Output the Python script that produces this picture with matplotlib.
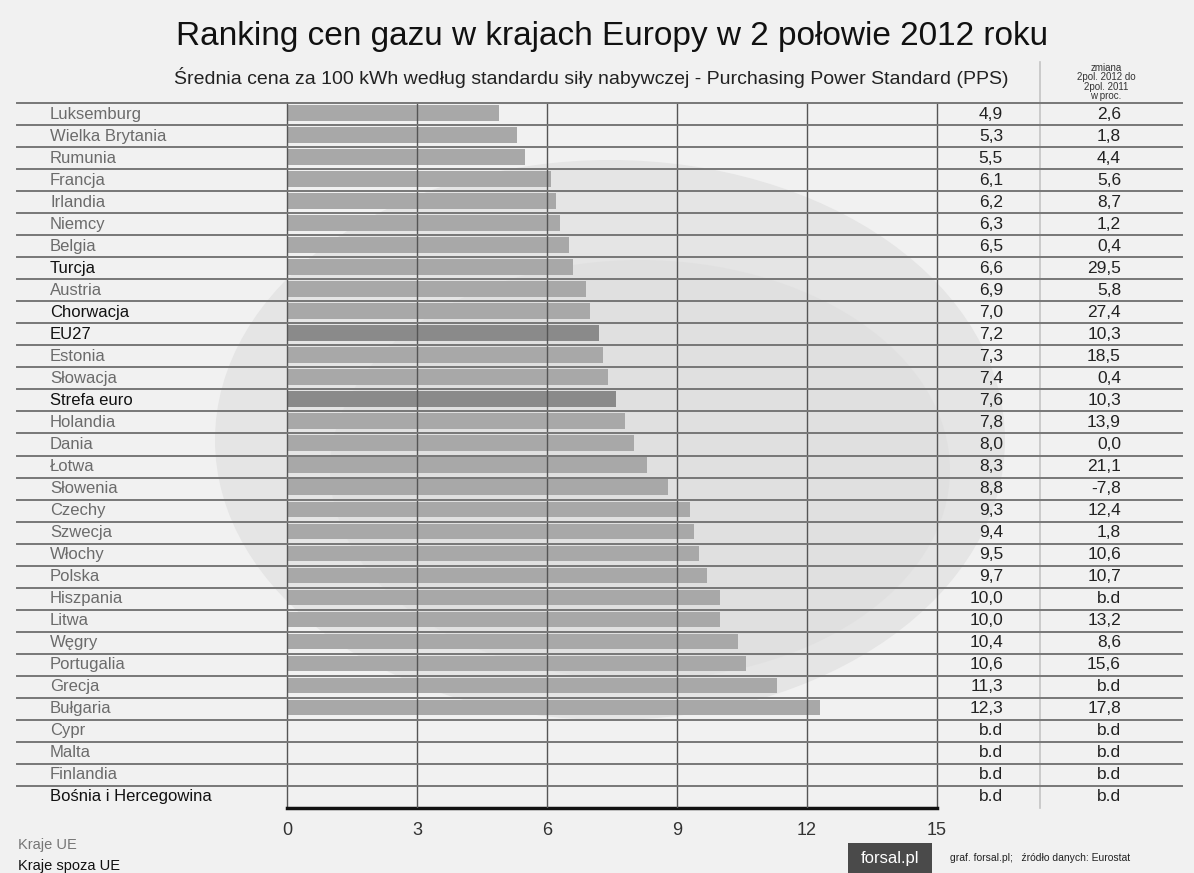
import matplotlib
matplotlib.use("Agg")
import matplotlib.pyplot as plt
from matplotlib.patches import Ellipse, Rectangle
import matplotlib.transforms as mtransforms

plt.rcParams['font.family'] = ['Liberation Sans', 'DejaVu Sans']

countries = ["Luksemburg", "Wielka Brytania", "Rumunia", "Francja", "Irlandia", "Niemcy",
             "Belgia", "Turcja", "Austria", "Chorwacja", "EU27", "Estonia", "Słowacja",
             "Strefa euro", "Holandia", "Dania", "Łotwa", "Słowenia", "Czechy", "Szwecja",
             "Włochy", "Polska", "Hiszpania", "Litwa", "Węgry", "Portugalia", "Grecja",
             "Bułgaria", "Cypr", "Malta", "Finlandia", "Bośnia i Hercegowina"]
prices = [4.9, 5.3, 5.5, 6.1, 6.2, 6.3, 6.5, 6.6, 6.9, 7.0, 7.2, 7.3, 7.4, 7.6, 7.8, 8.0,
          8.3, 8.8, 9.3, 9.4, 9.5, 9.7, 10.0, 10.0, 10.4, 10.6, 11.3, 12.3,
          None, None, None, None]
changes = [2.6, 1.8, 4.4, 5.6, 8.7, 1.2, 0.4, 29.5, 5.8, 27.4, 10.3, 18.5, 0.4, 10.3,
           13.9, 0.0, 21.1, -7.8, 12.4, 1.8, 10.6, 10.7, None, 13.2, 8.6, 15.6, None,
           17.8, None, None, None, None]
non_eu = ["Turcja", "Chorwacja", "Bośnia i Hercegowina"]
aggregates = ["EU27", "Strefa euro"]
xticks = [0, 3, 6, 9, 12, 15]

W, H = 1194, 873
fig = plt.figure(figsize=(W / 100, H / 100), dpi=100)
fig.patch.set_facecolor("#f1f1f1")

# faint background globe
bg = fig.add_axes([0, 0, 1, 1])
bg.set_xlim(0, W); bg.set_ylim(H, 0); bg.axis("off")
bg.add_patch(Ellipse((610, 440), 790, 560, facecolor="#e5e5e5", edgecolor="none"))
bg.add_patch(Ellipse((640, 470), 620, 420, facecolor="#dcdcdc", edgecolor="none", alpha=0.5))

x0, x1 = 287, 937
ytop, ybot = 103.3, 807.7
ax = fig.add_axes([x0 / W, 1 - ybot / H, (x1 - x0) / W, (ybot - ytop) / H])
ax.set_facecolor("none")
n = len(countries)
ax.set_xlim(0, 15)
ax.set_ylim(n - 0.5, -0.5)

def fmt(v):
    return "b.d" if v is None else f"{v:.1f}".replace(".", ",")

for i, (c, p) in enumerate(zip(countries, prices)):
    if p is not None:
        col = "#8a8a8a" if c in aggregates else "#a8a8a8"
        ax.barh(i - 0.05, p, height=0.72, color=col, edgecolor="none", zorder=2)

for xv in xticks[1:-1]:
    ax.axvline(xv, color="#555555", lw=1.0, zorder=3)

# row separator lines across full width
lx0 = (17 - x0) / (x1 - x0)
lx1 = (1182 - x0) / (x1 - x0)
for i in range(n):
    ax.axhline(i - 0.5, xmin=lx0, xmax=lx1, color="#777777", lw=1.4, clip_on=False, zorder=4)

ax.spines["top"].set_visible(False)
ax.spines["left"].set_color("#555555"); ax.spines["left"].set_linewidth(1.0)
ax.spines["right"].set_color("#555555"); ax.spines["right"].set_linewidth(1.0)
ax.spines["bottom"].set_color("#111111"); ax.spines["bottom"].set_linewidth(2.5)

ax.set_xticks(xticks)
ax.set_xticklabels([str(t) for t in xticks], fontsize=13, color="#333333")
ax.tick_params(axis="x", length=0, pad=10)
ax.set_yticks([])

trans_lab = mtransforms.blended_transform_factory(fig.transFigure, ax.transData)
for i, (c, p, ch) in enumerate(zip(countries, prices, changes)):
    tc = "#111111" if (c in non_eu or c in aggregates) else "#6b6b6b"
    ax.text(50 / W, i, c, transform=trans_lab, ha="left", va="center", fontsize=12, color=tc)
    ax.text(1003 / W, i, fmt(p), transform=trans_lab, ha="right", va="center", fontsize=12.5, color="#222222")
    ax.text(1121 / W, i, fmt(ch), transform=trans_lab, ha="right", va="center", fontsize=12.5, color="#222222")

# column separator
bg.plot([1040, 1040], [62, 808], color="#c4c4c4", lw=1.2)

fig.text(612 / W, 1 - 36 / H, "Ranking cen gazu w krajach Europy w 2 połowie 2012 roku",
         ha="center", va="center", fontsize=24, color="#111111")
fig.text(591 / W, 1 - 77 / H,
         "Średnia cena za 100 kWh według standardu siły nabywczej - Purchasing Power Standard (PPS)",
         ha="center", va="center", fontsize=14, color="#222222")
fig.text(1106 / W, 1 - 82 / H, "zmiana\n2pol. 2012 do\n2pol. 2011\nw proc.",
         ha="center", va="center", fontsize=7, color="#333333", linespacing=0.95)

fig.text(18 / W, 1 - 845 / H, "Kraje UE", ha="left", va="center", fontsize=10.5, color="#777777")
fig.text(18 / W, 1 - 866 / H, "Kraje spoza UE", ha="left", va="center", fontsize=10.5, color="#111111")

bg.add_patch(Rectangle((848, 843), 84, 30, facecolor="#4a4a4a", edgecolor="none"))
bg.text(890, 858, "forsal.pl", ha="center", va="center", fontsize=12, color="white")
bg.text(950, 858, "graf. forsal.pl;   źródło danych: Eurostat", ha="left", va="center",
        fontsize=7.5, color="#222222")

fig.savefig("out.png", dpi=100, facecolor=fig.get_facecolor())
